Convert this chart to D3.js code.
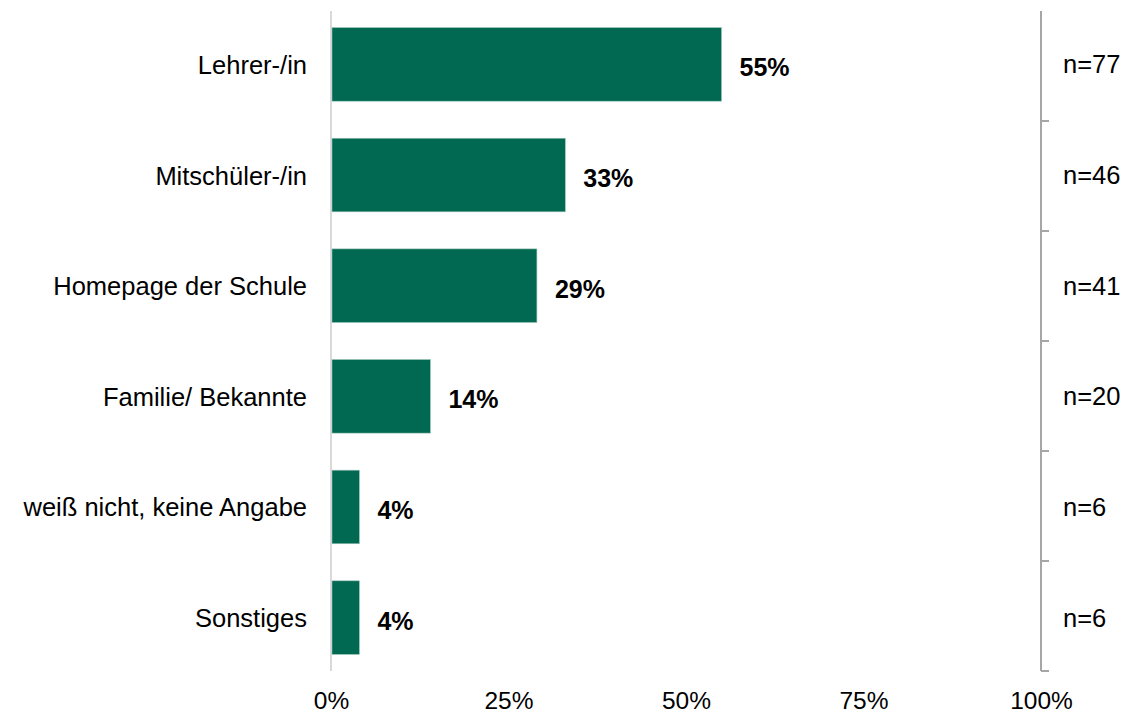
<!DOCTYPE html>
<html>
<head>
<meta charset="utf-8">
<script src="https://cdn.jsdelivr.net/npm/d3@7"></script>
<style>
  body { margin: 0; background: #fff; }
  svg text { font-family: "Liberation Sans", Arial, sans-serif; }
</style>
</head>
<body>
<svg id="chart" width="1125" height="717"></svg>
<script>
// Survey answers: where pupils heard about the offer
const categories = ["Lehrer-/in", "Mitschüler-/in", "Homepage der Schule", "Familie/ Bekannte", "weiß nicht, keine Angabe", "Sonstiges"];
const shares = [0.55, 0.33, 0.29, 0.14, 0.04, 0.04];
const counts = [77, 46, 41, 20, 6, 6];
const xTicks = [0, 0.25, 0.5, 0.75, 1];

const svg = d3.select("#chart");
const plotLeft = 331, plotRight = 1041, plotTop = 11, plotBottom = 671;

const x = d3.scaleLinear().domain([0, 1]).range([plotLeft, plotRight]);
const y = d3.scaleBand().domain(categories).range([plotTop, plotBottom]).paddingInner(0.335).paddingOuter(0.15);

// Left baseline
svg.append("line")
  .attr("x1", plotLeft).attr("x2", plotLeft).attr("y1", plotTop).attr("y2", plotBottom)
  .attr("stroke", "#d9d9d9").attr("stroke-width", 2);

// Bars
svg.selectAll("rect.bar").data(categories).join("rect")
  .attr("class", "bar")
  .attr("x", x(0) + 1)
  .attr("y", d => y(d))
  .attr("width", (d, i) => x(shares[i]) - x(0) - 1)
  .attr("height", y.bandwidth())
  .attr("fill", "#016951")
  .attr("stroke", "#9cc4b8").attr("stroke-width", 0.6);

// Category labels
svg.selectAll("text.cat").data(categories).join("text")
  .attr("class", "cat")
  .attr("x", 307)
  .attr("y", d => y(d) + y.bandwidth() / 2 + 9.5)
  .attr("text-anchor", "end")
  .attr("font-size", 25.5)
  .attr("fill", "#000")
  .text(d => d);

// Value labels
svg.selectAll("text.val").data(categories).join("text")
  .attr("class", "val")
  .attr("x", (d, i) => x(shares[i]) + 18)
  .attr("y", d => y(d) + y.bandwidth() / 2 + 12)
  .attr("font-size", 25)
  .attr("font-weight", "bold")
  .attr("fill", "#000")
  .text((d, i) => Math.round(shares[i] * 100) + "%");

// Right axis with band separators
const yEdges = d3.scaleLinear().domain([0, categories.length]).range([plotTop, plotBottom]);
const rightAxis = svg.append("g").attr("transform", `translate(${plotRight},0)`);
rightAxis.append("line")
  .attr("x1", 0).attr("x2", 0).attr("y1", plotTop).attr("y2", plotBottom)
  .attr("stroke", "#a6a6a6").attr("stroke-width", 2);
rightAxis.selectAll("line.tick").data(d3.range(1, categories.length + 1)).join("line")
  .attr("class", "tick")
  .attr("x1", 0).attr("x2", 8)
  .attr("y1", d => yEdges(d)).attr("y2", d => yEdges(d))
  .attr("stroke", "#a6a6a6").attr("stroke-width", 2);

// Sample sizes
svg.selectAll("text.n").data(categories).join("text")
  .attr("class", "n")
  .attr("x", 1063)
  .attr("y", d => y(d) + y.bandwidth() / 2 + 9)
  .attr("font-size", 25.5)
  .attr("fill", "#000")
  .text((d, i) => "n=" + counts[i]);

// Bottom tick labels
const xAxis = d3.axisBottom(x).tickValues(xTicks).tickFormat(d3.format(".0%")).tickSize(0);
const gx = svg.append("g").attr("transform", `translate(0,709)`).call(xAxis);
gx.select(".domain").remove();
gx.selectAll("text")
  .attr("font-size", 24.5)
  .attr("font-family", "Liberation Sans, Arial, sans-serif")
  .attr("fill", "#000")
  .attr("y", 0)
  .attr("dy", 0);
</script>
</body>
</html>
